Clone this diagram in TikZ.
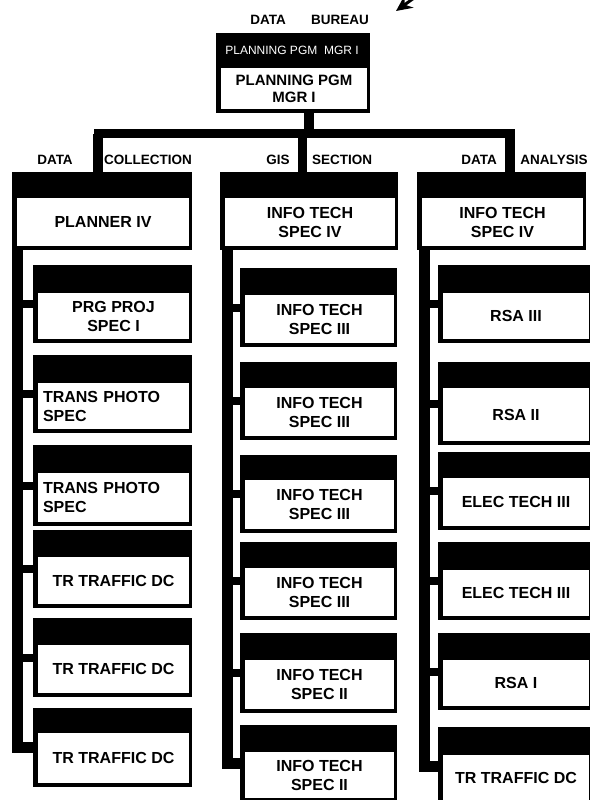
\documentclass[tikz,border=0pt]{standalone}
\usepackage{fontspec}
\setmainfont{Liberation Sans}
\usetikzlibrary{arrows.meta}
\tikzset{
  outerbox/.style={fill=black, draw=none, inner sep=0pt, outer sep=0pt},
  innerbox/.style={fill=white, draw=none, inner sep=0pt, outer sep=0pt, align=center,
    font=\bfseries\fontsize{16}{19}\selectfont},
  leftbox/.style={text width=141pt, align=left},
  grouplabel/.style={font=\bfseries\fontsize{13.5}{15}\selectfont, inner sep=0pt},
  bandlabel/.style={text=white, font=\fontsize{12}{14}\selectfont, inner sep=0pt},
  drop/.style={line width=9.5pt},
  busline/.style={line width=9pt, line cap=rect},
  spine/.style={line width=11pt, line join=miter},
  stub/.style={line width=8pt},
}
\newcommand{\orgbox}[8]{%
  \node[outerbox, minimum width={(#4-#2)*1pt}, minimum height={(#5-#3)*1pt}] (#1) at ({(#2+#4)/2},{(#3+#5)/2}) {};
  \node[innerbox, minimum width={(#4-#2-8)*1pt}, minimum height={(#5-#6-4)*1pt}, #8] (#1t) at ({(#2+#4)/2+1},{(#6+#5-4)/2}) {#7};
}
\begin{document}
\begin{tikzpicture}[x=1pt, y=-1pt]
\useasboundingbox (0,0) rectangle (589,800);
\fill[white] (0,0) rectangle (589,800);

% connector coordinates
\coordinate (bus) at (0,133.5);
\coordinate (dTop) at (309,113);
\coordinate (dDC) at (98,172);
\coordinate (dGIS) at (302.5,172);
\coordinate (dDA) at (510,172);
\coordinate (kDC) at (17.5,180);
\coordinate (kGIS) at (227,180);
\coordinate (kDA) at (424,180);
\coordinate (arrS) at (425,-10);
\coordinate (arrE) at (396,11);

% arrow at top
\draw[line width=3pt, -{Stealth[length=16pt,width=15pt]}] (arrS) -- (arrE);

% top-level connectors
\draw[drop] (dTop) -- (dTop |- bus);
\draw[busline] (dDC |- bus) -- (dDA |- bus);
\draw[drop] (dDC |- bus) -- (dDC);
\draw[drop] (dGIS |- bus) -- (dGIS);
\draw[drop] (dDA |- bus) -- (dDA);

% top box
\orgbox{top}{216}{33}{370}{113}{68}{PLANNING PGM\\MGR I}{font=\bfseries\fontsize{15}{17}\selectfont}
\node[bandlabel] (topband) at (292,50) {PLANNING PGM\ \ MGR I};

% labels
\node[grouplabel] (lbData) at (268,20) {DATA};
\node[grouplabel] (lbBureau) at (340,20) {BUREAU};
\node[grouplabel] (lbDC1) at (55,160) {DATA};
\node[grouplabel] (lbDC2) at (148,160) {COLLECTION};
\node[grouplabel] (lbG1) at (278,160) {GIS};
\node[grouplabel] (lbG2) at (342,160) {SECTION};
\node[grouplabel] (lbA1) at (479,160) {DATA};
\node[grouplabel] (lbA2) at (554,160) {ANALYSIS};

% ---------- DATA COLLECTION ----------
\orgbox{c1}{33}{265}{192}{343}{293}{PRG PROJ\\SPEC I}{}
\orgbox{c2}{33}{355}{192}{433}{383}{TRANS PHOTO\\SPEC}{leftbox}
\orgbox{c3}{33}{445}{192}{526}{473}{TRANS PHOTO\\SPEC}{leftbox}
\orgbox{c4}{33}{530}{192}{608}{557}{TR TRAFFIC DC}{}
\orgbox{c5}{33}{618}{192}{697}{645}{TR TRAFFIC DC}{}
\orgbox{c6}{33}{708}{192}{787}{733}{TR TRAFFIC DC}{}
\draw[spine] (kDC) |- (c6.west);
\foreach \n in {c1,c2,c3,c4,c5} \draw[stub] (kDC |- \n.west) -- (\n.west);
\orgbox{hDC}{12}{172}{192}{250}{198}{PLANNER IV}{}

% ---------- GIS SECTION ----------
\orgbox{g1}{240}{268}{397}{347}{295}{INFO TECH\\SPEC III}{}
\orgbox{g2}{240}{362}{397}{440}{388}{INFO TECH\\SPEC III}{}
\orgbox{g3}{240}{455}{397}{533}{480}{INFO TECH\\SPEC III}{}
\orgbox{g4}{240}{542}{397}{620}{568}{INFO TECH\\SPEC III}{}
\orgbox{g5}{240}{633}{397}{713}{660}{INFO TECH\\SPEC II}{}
\orgbox{g6}{240}{725}{397}{802}{752}{INFO TECH\\SPEC II}{}
\draw[spine] (kGIS) |- (g6.west);
\foreach \n in {g1,g2,g3,g4,g5} \draw[stub] (kGIS |- \n.west) -- (\n.west);
\orgbox{hGIS}{220}{172}{398}{250}{198}{INFO TECH\\SPEC IV}{}

% ---------- DATA ANALYSIS ----------
\orgbox{a1}{438}{265}{592}{343}{293}{RSA III}{}
\orgbox{a2}{438}{362}{592}{445}{388}{RSA II}{}
\orgbox{a3}{438}{452}{592}{530}{478}{ELEC TECH III}{}
\orgbox{a4}{438}{542}{592}{620}{570}{ELEC TECH III}{}
\orgbox{a5}{438}{633}{592}{710}{660}{RSA I}{}
\orgbox{a6}{438}{727}{592}{805}{755}{TR TRAFFIC DC}{}
\draw[spine] (kDA) |- (a6.west);
\foreach \n in {a1,a2,a3,a4,a5} \draw[stub] (kDA |- \n.west) -- (\n.west);
\orgbox{hDA}{417}{172}{586}{250}{198}{INFO TECH\\SPEC IV}{}
\end{tikzpicture}
\end{document}
